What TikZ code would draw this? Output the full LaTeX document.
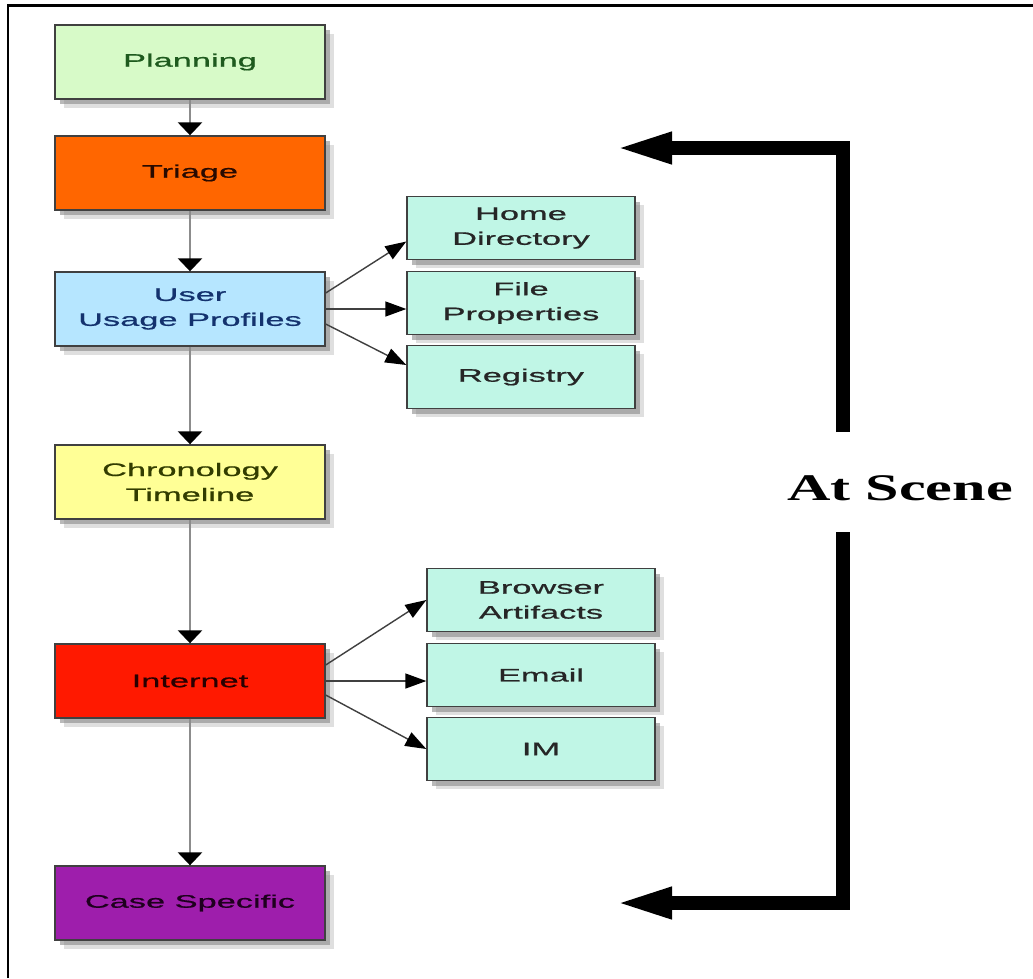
\documentclass[tikz,border=0pt]{standalone}
\usepackage{fontspec}
\newfontfamily\boxfont[FakeStretch=1.9, FakeBold=0.8]{Liberation Sans}
\newfontfamily\scenefont[FakeStretch=1.6]{Liberation Serif}
\usetikzlibrary{arrows.meta,shadows}

\definecolor{planfill}{RGB}{215,250,200}
\definecolor{triagefill}{RGB}{255,102,0}
\definecolor{userfill}{RGB}{182,230,255}
\definecolor{chronofill}{RGB}{255,255,150}
\definecolor{netfill}{RGB}{255,25,0}
\definecolor{casefill}{RGB}{158,30,172}
\definecolor{mint}{RGB}{192,246,230}

\tikzset{
  stage/.style={draw=black!75, line width=0.8pt, minimum width=5.4cm,
    minimum height=1.48cm, align=center,
    font=\boxfont\fontsize{10.3}{14.2}\selectfont,
    drop shadow={shadow xshift=5pt, shadow yshift=-5pt, opacity=0.25},
    drop shadow={shadow xshift=3pt, shadow yshift=-3pt, opacity=0.55}},
  artifact/.style={stage, fill=mint, text=black!85,
    minimum width=4.56cm, minimum height=1.26cm},
  flow/.style={draw=black!45, line width=1.6pt,
    -{Triangle[length=0.26cm, width=0.48cm, color=black]}},
  branch/.style={draw=black!75, line width=0.8pt,
    -{Triangle[length=0.42cm, width=0.3cm, color=black]}},
  scene/.style={line width=0.28cm, line join=miter,
    -{Triangle[length=1.18cm, width=0.56cm]}}
}

\begin{document}
\begin{tikzpicture}[x=0.02cm, y=-0.02cm]
    \useasboundingbox (0, 0) rectangle (1033, 978);
    \draw[line width=0.06cm] (8, 978) -- (8, 5) -- (1033, 5);

    \begin{scope}[every node/.style={stage}]
      \node[fill=planfill, text={rgb,255:red,30;green,90;blue,30}] (plan) at (190, 62) {Planning};
      \node[fill=triagefill, text={rgb,255:red,40;green,10;blue,0}] (triage) at (190, 173) {Triage};
      \node[fill=userfill, text={rgb,255:red,20;green,50;blue,110}] (user) at (190, 309) {User\\Usage Profiles};
      \node[fill=chronofill, text={rgb,255:red,50;green,60;blue,0}] (chrono) at (190, 482) {Chronology\\Timeline};
      \node[fill=netfill, text={rgb,255:red,40;green,0;blue,0}] (net) at (190, 681) {Internet};
      \node[fill=casefill, text={rgb,255:red,30;green,0;blue,30}] (case) at (190, 903) {Case Specific};
    \end{scope}
    \begin{scope}[every node/.style={artifact}]
      \node (home) at (521, 228) {Home\\Directory};
      \node (props) at (521, 303) {File\\Properties};
      \node (reg) at (521, 377) {Registry};
      \node (browser) at (541, 600) {Browser\\Artifacts};
      \node (email) at (541, 675) {Email};
      \node (im) at (541, 749) {IM};
    \end{scope}
    \node[font=\scenefont\bfseries\fontsize{21.4}{24}\selectfont] (scene) at (900, 488) {At Scene};

    \draw[flow] (plan) -- (triage);
    \draw[flow] (triage) -- (user);
    \draw[flow] (user) -- (chrono);
    \draw[flow] (chrono) -- (net);
    \draw[flow] (net) -- (case);

    \draw[branch] ([yshift=0.32cm]user.east) -- ([yshift=-0.27cm]home.west);
    \draw[branch] (user.east) -- (user.east -| props.west);
    \draw[branch] ([yshift=-0.3cm]user.east) -- ([yshift=0.24cm]reg.west);
    \draw[branch] ([yshift=0.32cm]net.east) -- (browser.west);
    \draw[branch] (net.east) -- (net.east -| email.west);
    \draw[branch] ([yshift=-0.28cm]net.east) -- (im.west);

    \coordinate (upstart) at (843, 432);
    \coordinate (uptip) at (613, 148);
    \coordinate (downstart) at (843, 532);
    \coordinate (downtip) at (613, 903);
    \draw[scene] (upstart) |- (uptip);
    \draw[scene] (downstart) |- (downtip);
\end{tikzpicture}
\end{document}
